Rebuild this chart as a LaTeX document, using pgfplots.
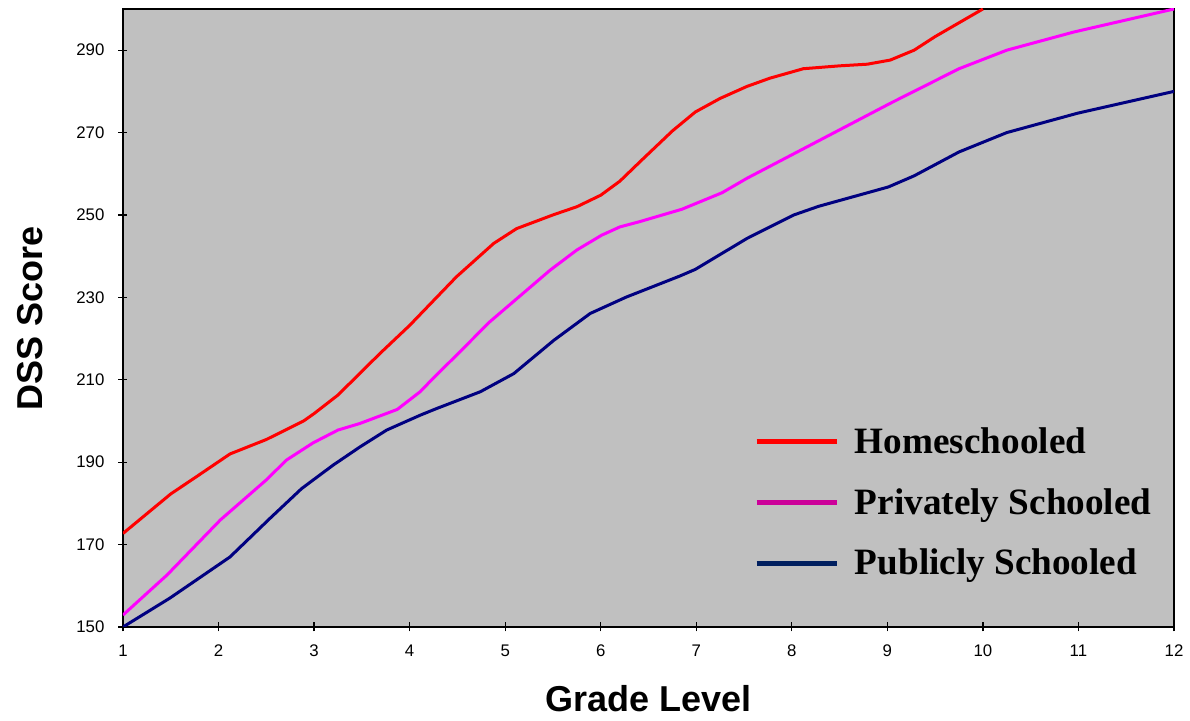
\documentclass[border=0pt]{standalone}
\usepackage{fontspec}
\setmainfont{Liberation Sans}
\newfontfamily\timesfont{Liberation Serif}
\usepackage{pgfplots}
\pgfplotsset{compat=1.18}
\definecolor{bggray}{HTML}{C0C0C0}
\definecolor{homered}{HTML}{FF0000}
\definecolor{privmag}{HTML}{FF00FF}
\definecolor{pubnavy}{HTML}{000080}
\definecolor{legmag}{HTML}{CC0099}
\definecolor{legnavy}{HTML}{001F5F}
\begin{document}
\begin{tikzpicture}
\begin{axis}[
  scale only axis, width=525.5pt, height=309pt,
  xmin=1, xmax=12, ymin=150, ymax=300,
  xtick={1,2,...,12}, ytick={150,170,...,290},
  xtick pos=bottom, ytick pos=left,
  axis background/.style={fill=bggray},
  axis line style={line width=0.8pt},
  tick align=center, major tick length=4.5pt,
  tick style={black, line width=0.6pt},
  ticklabel style={font=\fontsize{8.4}{10}\selectfont},
  xticklabel style={yshift=-3pt},
  yticklabel style={xshift=-3.5pt},
  /pgf/number format/assume math mode=true,
  xlabel={Grade Level}, ylabel={DSS Score},
  label style={font=\bfseries\fontsize{18}{21}\selectfont},
  xlabel style={at={(axis description cs:0.5,0)}, anchor=center, yshift=-36pt},
  ylabel style={at={(axis description cs:0,0.5)}, anchor=center, yshift=46.5pt},
  legend image code/.code={\draw[#1, line width=2.5pt] (0pt,0pt) -- (40pt,0pt); \path (47pt,0pt);},
  legend style={at={(rel axis cs:0.6,0.33)}, anchor=north west, draw=none, fill=none,
    inner sep=0pt, row sep=12pt,
    font=\timesfont\bfseries\fontsize{18.6}{22}\selectfont},
  legend cell align=left,
]
\addplot[homered, line width=1.5pt, forget plot] coordinates {
(1,172.7)(1.5,182.3)(1.77,186.5)(2.12,192)(2.5,195.5)(2.89,200)(3,201.8)(3.25,206.3)
(3.69,216.4)(4,223.2)(4.49,235)(4.88,243.1)(5.12,246.7)(5.51,250.1)(5.75,252)(6,254.8)
(6.2,258.2)(6.41,262.9)(6.75,270.4)(6.99,275)(7.25,278.3)(7.53,281.2)(7.77,283.2)
(8.12,285.5)(8.5,286.2)(8.79,286.6)(9.03,287.6)(9.28,290)(9.5,293.3)(10,300)};
\addplot[privmag, line width=1.5pt, forget plot] coordinates {
(1,152.9)(1.46,162.6)(2.02,176)(2.5,185.7)(2.71,190.5)(2.99,194.7)(3.25,197.8)(3.48,199.4)
(3.87,202.8)(4.11,207.1)(4.21,209.5)(4.5,216.2)(4.84,224.1)(5.47,236.6)(5.75,241.5)
(6.01,245.1)(6.2,247.1)(6.41,248.4)(6.85,251.4)(7.27,255.4)(7.53,258.9)(9.03,277.1)
(9.75,285.5)(10.25,290)(10.95,294.4)(12,300)};
\addplot[pubnavy, line width=1.5pt, forget plot] coordinates {
(1,150)(1.49,157)(2.12,167)(2.54,176.4)(2.87,183.6)(3.2,189.3)(3.48,193.7)(3.76,197.8)
(4.11,201.4)(4.28,203)(4.74,207.1)(5.09,211.5)(5.51,219.6)(5.89,226.1)(6.27,230.1)
(6.83,235.2)(6.99,236.8)(7.53,244.3)(8.02,250)(8.28,252.1)(9.01,256.8)(9.28,259.5)
(9.75,265.3)(10.25,270)(10.99,274.7)(12,280)};
\addlegendimage{homered}\addlegendentry{Homeschooled}
\addlegendimage{legmag}\addlegendentry{Privately Schooled}
\addlegendimage{legnavy}\addlegendentry{Publicly Schooled}
\coordinate (bl) at (rel axis cs:0,0);
\coordinate (tr) at (rel axis cs:1,1);
\end{axis}
\pgfresetboundingbox
\path[use as bounding box] ([xshift=-61.5pt,yshift=-47pt]bl) rectangle ([xshift=8pt,yshift=4.5pt]tr);
\end{tikzpicture}
\end{document}
